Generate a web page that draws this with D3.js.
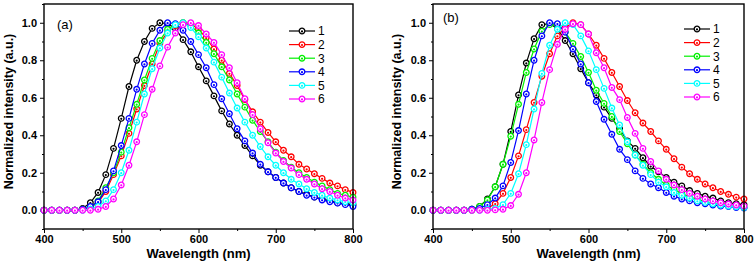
<!DOCTYPE html>
<html>
	<head>
		<meta charset="utf-8">
		<script src="https://d3js.org/d3.v7.min.js"></script>
		<style>
			body { margin:0; background:white; }
			svg { display:block; font-family:Arial, "Liberation Sans", sans-serif; }
			.frame { fill:none; stroke:black; stroke-width:1.4px; }
			.tick-lbl { font-size:11px; font-weight:bold; }
			.ax-title { font-size:13px; font-weight:bold; }
			.series { fill:none; stroke-width:1.2px; }
			.leg text { font-size:12px; }
		</style>
	</head>
	<body>
		<script>
			var wavelengths = [400,410,420,430,440,450,460,470,480,490,500,510,520,530,540,550,560,570,580,590,600,
				610,620,630,640,650,660,670,680,690,700,710,720,730,740,750,760,770,780,790,800]

			var names = ["1","2","3","4","5","6"]
			var colors = ["#000000","#ff0000","#00f000","#0000ff","#00ffff","#ff00ff"]
			var xTicks = [400,500,600,700,800]
			var yTicks = [0.0,0.2,0.4,0.6,0.8,1.0]

			// panel (a)
			var a1 = [0,0,0,0,0,0.01,0.04,0.095,0.19,0.33,0.49,0.66,0.80,0.90,0.97,1.0,0.995,0.97,0.91,0.845,0.765,
				0.69,0.61,0.53,0.46,0.40,0.345,0.29,0.24,0.205,0.175,0.145,0.12,0.10,0.085,0.07,0.06,0.05,0.04,0.035,0.03]
			var a2 = [0,0,0,0,0,0.005,0.015,0.04,0.10,0.19,0.29,0.41,0.54,0.665,0.78,0.89,0.95,0.985,1.0,0.995,0.965,
				0.92,0.86,0.80,0.73,0.665,0.59,0.525,0.47,0.415,0.365,0.32,0.285,0.245,0.22,0.195,0.17,0.145,0.13,0.11,0.095]
			var a3 = [0,0,0,0,0,0.005,0.015,0.05,0.12,0.20,0.31,0.44,0.565,0.695,0.81,0.905,0.965,0.99,1.0,0.985,0.945,
				0.895,0.835,0.765,0.695,0.62,0.55,0.48,0.42,0.365,0.31,0.265,0.23,0.20,0.175,0.15,0.13,0.11,0.09,0.08,0.07]
			var a4 = [0,0,0,0,0,0.005,0.02,0.045,0.11,0.21,0.345,0.49,0.645,0.78,0.89,0.96,1.0,0.995,0.96,0.90,0.83,
				0.76,0.67,0.595,0.515,0.435,0.37,0.305,0.245,0.205,0.175,0.145,0.12,0.10,0.08,0.07,0.055,0.045,0.038,0.03,0.02]
			var a5 = [0,0,0,0,0,0,0.005,0.02,0.05,0.11,0.20,0.32,0.47,0.62,0.755,0.865,0.945,0.99,1.0,0.975,0.925,
				0.865,0.79,0.71,0.625,0.545,0.47,0.40,0.34,0.285,0.24,0.20,0.165,0.14,0.115,0.095,0.08,0.065,0.055,0.045,0.04]
			var a6 = [0,0,0,0,0,0,0,0.005,0.02,0.06,0.135,0.24,0.365,0.51,0.645,0.77,0.87,0.945,0.99,1.0,0.985,
				0.94,0.895,0.83,0.76,0.68,0.595,0.51,0.435,0.36,0.305,0.26,0.225,0.19,0.165,0.14,0.115,0.10,0.08,0.065,0.055]

			// panel (b)
			var b1 = [0,0,0,0,0,0.005,0.02,0.06,0.125,0.245,0.42,0.615,0.785,0.915,0.99,0.995,0.97,0.905,0.835,0.755,0.68,
				0.615,0.55,0.49,0.435,0.37,0.33,0.28,0.235,0.205,0.175,0.15,0.13,0.105,0.09,0.075,0.065,0.05,0.04,0.035,0.03]
			var b2 = [0,0,0,0,0,0,0.005,0.01,0.035,0.09,0.175,0.29,0.43,0.575,0.715,0.835,0.93,0.975,1.0,0.99,0.94,
				0.88,0.81,0.735,0.66,0.585,0.52,0.465,0.42,0.37,0.325,0.275,0.23,0.195,0.165,0.14,0.12,0.10,0.085,0.07,0.06]
			var b3 = [0,0,0,0,0,0.005,0.02,0.055,0.125,0.245,0.395,0.565,0.735,0.86,0.955,0.99,0.99,0.95,0.89,0.82,0.735,
				0.64,0.57,0.50,0.42,0.355,0.295,0.245,0.20,0.165,0.135,0.11,0.09,0.07,0.06,0.045,0.035,0.03,0.025,0.02,0.015]
			var b4 = [0,0,0,0,0,0.005,0.01,0.03,0.065,0.13,0.255,0.425,0.62,0.80,0.93,1.0,0.995,0.95,0.86,0.78,0.68,
				0.58,0.485,0.405,0.325,0.27,0.21,0.17,0.14,0.12,0.095,0.075,0.06,0.05,0.04,0.035,0.028,0.022,0.02,0.015,0.012]
			var b5 = [0,0,0,0,0,0,0,0.005,0.01,0.03,0.09,0.195,0.35,0.54,0.73,0.88,0.965,1.0,0.99,0.93,0.85,
				0.75,0.65,0.545,0.455,0.365,0.295,0.24,0.19,0.15,0.125,0.095,0.08,0.065,0.05,0.042,0.035,0.028,0.022,0.019,0.015]
			var b6 = [0,0,0,0,0,0,0,0,0.002,0.005,0.025,0.085,0.20,0.375,0.575,0.75,0.885,0.965,0.995,0.99,0.94,
				0.84,0.76,0.655,0.59,0.495,0.41,0.33,0.26,0.21,0.165,0.135,0.11,0.09,0.075,0.06,0.05,0.04,0.033,0.028,0.022]

			var width = 756,
				height = 268

			var svg = d3.select("body").append("svg")
				.attr("width", width)
				.attr("height", height)

			var panels = [
				{label:"(a)", series:[a1,a2,a3,a4,a5,a6], x0:44, x1:353, ytx:9, labx:57, laby:29, legx:289, legy:31},
				{label:"(b)", series:[b1,b2,b3,b4,b5,b6], x0:433, x1:744, ytx:397, labx:443, laby:22, legx:684, legy:29}
			]

			panels.forEach(drawPanel)

			function drawPanel(p){
				var top = 4, bottom = 229
				var x = d3.scaleLinear().domain([400,800]).range([p.x0,p.x1])
				var y = d3.scaleLinear().domain([-0.1,1.1]).range([bottom,top])
				var g = svg.append("g")

				// minor + major ticks, pointing outward
				var xAx = d3.axisBottom(x).tickValues(xTicks).tickSize(4).tickPadding(2)
					.tickFormat(d3.format("d"))
				var xMin = d3.axisBottom(x).tickValues([450,550,650,750]).tickSize(2).tickFormat("")
				var yAx = d3.axisLeft(y).tickValues(yTicks).tickSize(4).tickPadding(3)
					.tickFormat(d3.format(".1f"))
				var yMin = d3.axisLeft(y).tickValues([-0.1,0.1,0.3,0.5,0.7,0.9,1.1]).tickSize(2).tickFormat("")

				g.append("g").attr("transform", "translate(0," + bottom + ")").call(xMin)
				g.append("g").attr("transform", "translate(0," + bottom + ")").call(xAx)
				g.append("g").attr("transform", "translate(" + p.x0 + ",0)").call(yMin)
				g.append("g").attr("transform", "translate(" + p.x0 + ",0)").call(yAx)

				g.selectAll(".domain").remove()
				g.selectAll(".tick line").attr("stroke", "black").attr("stroke-width", 1)
				g.selectAll(".tick text").attr("class", "tick-lbl").attr("fill", "black")
					.style("font-family", "Arial, 'Liberation Sans', sans-serif")

				g.append("text")
					.attr("class", "ax-title")
					.attr("x", (p.x0 + p.x1) / 2)
					.attr("y", 258)
					.attr("text-anchor", "middle")
					.text("Wavelength (nm)")

				g.append("text")
					.attr("class", "ax-title")
					.attr("transform", "translate(" + p.ytx + "," + ((top + bottom) / 2 - 5) + ")rotate(-90)")
					.attr("dy", "0.35em")
					.attr("text-anchor", "middle")
					.style("font-size", "12.5px")
					.text("Normalized intensity (a.u.)")

				g.append("text")
					.attr("x", p.labx)
					.attr("y", p.laby)
					.style("font-size", "13px")
					.text(p.label)

				var line = d3.line()
					.x(function(d, i){ return x(wavelengths[i]) })
					.y(function(d){ return y(d) })

				p.series.forEach(function(vals, si){
					var c = colors[si]
					var sg = g.append("g")
					sg.append("path")
						.attr("class", "series")
						.attr("stroke", c)
						.attr("d", line(vals))
					var pts = sg.selectAll("g.pt")
						.data(vals)
						.enter().append("g")
						.attr("transform", function(d, i){ return "translate(" + x(wavelengths[i]) + "," + y(d) + ")" })
					drawMarker(pts, c)
				})

				g.append("rect")
					.attr("class", "frame")
					.attr("x", p.x0)
					.attr("y", top)
					.attr("width", p.x1 - p.x0)
					.attr("height", bottom - top)

				// legend
				var leg = g.append("g").attr("class", "leg")
				names.forEach(function(n, i){
					var ly = p.legy + i * 13.6
					leg.append("line")
						.attr("x1", p.legx).attr("x2", p.legx + 26)
						.attr("y1", ly).attr("y2", ly)
						.attr("stroke", colors[i])
						.attr("stroke-width", 1.2)
					var m = leg.append("g").attr("transform", "translate(" + (p.legx + 13) + "," + ly + ")")
					drawMarker(m, colors[i])
					leg.append("text")
						.attr("x", p.legx + 29)
						.attr("y", ly)
						.attr("dy", "0.36em")
						.text(n)
				})
			}

			function drawMarker(sel, c){
				sel.append("circle")
					.attr("r", 2.8)
					.attr("fill", "white")
					.attr("stroke", c)
					.attr("stroke-width", 1.3)
				sel.append("circle")
					.attr("r", 1.1)
					.attr("cy", 0.4)
					.attr("fill", c)
			}
		</script>
	</body>
</html>
